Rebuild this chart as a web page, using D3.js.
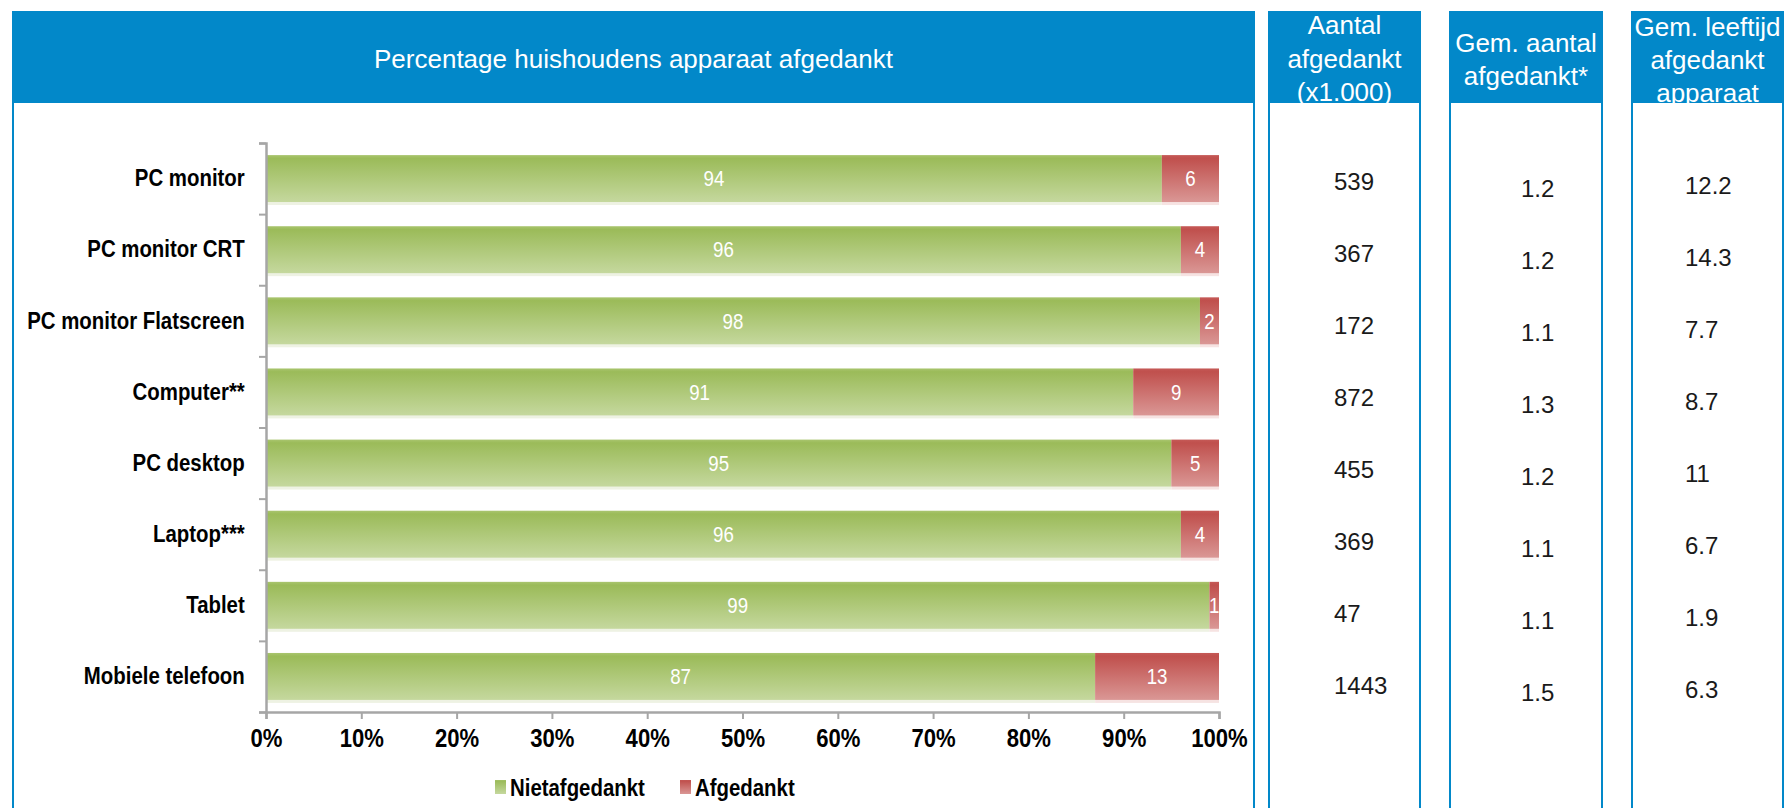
<!DOCTYPE html>
<html>
<head>
<meta charset="utf-8">
<script src="https://cdn.jsdelivr.net/npm/d3@7"></script>
<style>
  html, body { margin: 0; padding: 0; background: #fff; }
  svg { display: block; font-family: "Liberation Sans", Arial, sans-serif; }
</style>
</head>
<body>
<svg id="chart" width="1785" height="808"></svg>
<script>
// data
const categories = ['PC monitor', 'PC monitor CRT', 'PC monitor Flatscreen', 'Computer**',
                    'PC desktop', 'Laptop***', 'Tablet', 'Mobiele telefoon'];
const nietAfgedankt = [94, 96, 98, 91, 95, 96, 99, 87];
const afgedankt = [6, 4, 2, 9, 5, 4, 1, 13];
const aantalAfgedankt = ['539', '367', '172', '872', '455', '369', '47', '1443'];
const gemAantal = ['1.2', '1.2', '1.1', '1.3', '1.2', '1.1', '1.1', '1.5'];
const gemLeeftijd = ['12.2', '14.3', '7.7', '8.7', '11', '6.7', '1.9', '6.3'];
const xTicks = [0, 10, 20, 30, 40, 50, 60, 70, 80, 90, 100];
const seriesNames = ['Nietafgedankt', 'Afgedankt'];

const blue = '#0288c9';
const axisGrey = '#a6a6a6';
const squeeze = 'scale(0.85,1)';

const svg = d3.select('#chart');

const defs = svg.append('defs');
function gradient(id, stops) {
  const g = defs.append('linearGradient')
    .attr('id', id).attr('x1', 0).attr('y1', 0).attr('x2', 0).attr('y2', 1);
  stops.forEach(s => g.append('stop').attr('offset', s[0]).attr('stop-color', s[1]));
}
gradient('grad-green', [[0, '#a9c56f'], [0.07, '#9bbb59'], [1, '#c5d89e']]);
gradient('grad-red', [[0, '#c55a57'], [0.07, '#c0504d'], [1, '#da9795']]);

defs.append('clipPath').attr('id', 'plot-clip')
  .append('rect').attr('x', 266).attr('y', 100).attr('width', 954).attr('height', 640);

// ---- panels ----
const panels = [
  { x0: 12, x1: 1255, lines: [['Percentage huishoudens apparaat afgedankt', 59]] },
  { x0: 1268, x1: 1421, lines: [['Aantal', 25], ['afgedankt', 59], ['(x1.000)', 92]] },
  { x0: 1449, x1: 1603, lines: [['Gem. aantal', 43], ['afgedankt*', 76]] },
  { x0: 1631, x1: 1784, lines: [['Gem. leeftijd', 27], ['afgedankt', 60], ['apparaat', 93]] }
];

panels.forEach(p => {
  const g = svg.append('g');
  g.append('rect')
    .attr('x', p.x0).attr('y', 11)
    .attr('width', p.x1 - p.x0).attr('height', 808)
    .attr('fill', blue);
  g.selectAll('text.head')
    .data(p.lines)
    .enter().append('text')
    .attr('class', 'head')
    .attr('x', (p.x0 + p.x1) / 2)
    .attr('y', d => d[1])
    .attr('dy', '0.35em')
    .attr('text-anchor', 'middle')
    .attr('fill', '#fff')
    .attr('font-size', 26)
    .text(d => d[0]);
  // white body drawn over the header text, so the last line gets cut like the original
  g.append('rect')
    .attr('x', p.x0 + 2).attr('y', 103)
    .attr('width', p.x1 - p.x0 - 4).attr('height', 720)
    .attr('fill', '#fff');
});

// ---- bar chart ----
const x = d3.scaleLinear().domain([0, 100]).range([266, 1219]);
const y = d3.scaleBand().domain(categories).range([143, 712]).paddingInner(0.34).paddingOuter(0.17);
const yEdges = d3.scaleLinear().domain([0, categories.length]).range([143, 712]);

const rows = categories.map((c, i) => ({ cat: c, niet: nietAfgedankt[i], af: afgedankt[i] }));

const plot = svg.append('g');
const bars = plot.append('g').attr('clip-path', 'url(#plot-clip)');

// soft shadow under each segment
bars.selectAll('rect.shadow-g')
  .data(rows).enter().append('rect')
  .attr('x', x(0)).attr('y', d => y(d.cat) + 3)
  .attr('width', d => x(d.niet) - x(0)).attr('height', y.bandwidth())
  .attr('fill', '#eef2e3');
bars.selectAll('rect.shadow-r')
  .data(rows).enter().append('rect')
  .attr('x', d => x(d.niet)).attr('y', d => y(d.cat) + 3)
  .attr('width', d => x(d.niet + d.af) - x(d.niet)).attr('height', y.bandwidth())
  .attr('fill', '#f6e3e2');

bars.selectAll('rect.green')
  .data(rows).enter().append('rect')
  .attr('x', x(0)).attr('y', d => y(d.cat))
  .attr('width', d => x(d.niet) - x(0)).attr('height', y.bandwidth())
  .attr('fill', 'url(#grad-green)');
bars.selectAll('rect.red')
  .data(rows).enter().append('rect')
  .attr('x', d => x(d.niet)).attr('y', d => y(d.cat))
  .attr('width', d => x(d.niet + d.af) - x(d.niet)).attr('height', y.bandwidth())
  .attr('fill', 'url(#grad-red)');

bars.selectAll('text.lab-g')
  .data(rows).enter().append('text')
  .attr('transform', d => `translate(${x(d.niet / 2)},${y(d.cat) + y.bandwidth() / 2}) ${squeeze}`)
  .attr('dy', '0.35em').attr('text-anchor', 'middle')
  .attr('fill', '#fff').attr('font-size', 22)
  .text(d => d.niet);
bars.selectAll('text.lab-r')
  .data(rows).enter().append('text')
  .attr('transform', d => `translate(${x(d.niet + d.af / 2)},${y(d.cat) + y.bandwidth() / 2}) ${squeeze}`)
  .attr('dy', '0.35em').attr('text-anchor', 'middle')
  .attr('fill', '#fff').attr('font-size', 22)
  .text(d => d.af);

// y axis: tick marks on the band edges, labels on band centres
const yTickAxis = plot.append('g')
  .attr('transform', 'translate(266,0)')
  .call(d3.axisLeft(yEdges).tickValues(d3.range(categories.length + 1)).tickSize(7).tickFormat(''));
const yLabAxis = plot.append('g')
  .attr('transform', 'translate(266,0)')
  .call(d3.axisLeft(y).tickSize(0).tickPadding(25));
yLabAxis.select('.domain').remove();
yLabAxis.selectAll('text')
  .attr('transform', squeeze)
  .attr('font-size', 24).attr('font-weight', 'bold')
  .attr('font-family', '"Liberation Sans", Arial, sans-serif')
  .attr('fill', '#000');

const xAxis = plot.append('g')
  .attr('transform', 'translate(0,712)')
  .call(d3.axisBottom(x).tickValues(xTicks).tickSize(7).tickPadding(10).tickFormat(d => d + '%'));
xAxis.selectAll('text')
  .attr('transform', squeeze)
  .attr('font-size', 26).attr('font-weight', 'bold')
  .attr('font-family', '"Liberation Sans", Arial, sans-serif')
  .attr('fill', '#000');
xAxis.select('.domain').attr('transform', 'translate(0,0)');

[yTickAxis, xAxis].forEach(a => {
  a.selectAll('.domain').attr('stroke', axisGrey).attr('stroke-width', 2.5);
  a.selectAll('.tick line').attr('stroke', axisGrey).attr('stroke-width', 2);
});

// legend
const legendX = [495, 680];
const legend = svg.append('g').selectAll('g')
  .data(seriesNames).enter().append('g')
  .attr('transform', (d, i) => `translate(${legendX[i]},787)`);
legend.append('rect')
  .attr('x', 0).attr('y', -7).attr('width', 11).attr('height', 14)
  .attr('fill', (d, i) => i === 0 ? 'url(#grad-green)' : 'url(#grad-red)');
legend.append('text')
  .attr('transform', 'translate(15,0) ' + squeeze)
  .attr('dy', '0.36em')
  .attr('font-size', 24).attr('font-weight', 'bold')
  .attr('fill', '#000')
  .text(d => d);

// ---- side columns ----
const sideCols = [
  { vals: aantalAfgedankt, x: 1334, top: 182 },
  { vals: gemAantal, x: 1521, top: 189 },
  { vals: gemLeeftijd, x: 1685, top: 186 }
];
sideCols.forEach(col => {
  const ys = d3.scalePoint().domain(categories).range([col.top, col.top + 72 * 7]);
  svg.append('g').selectAll('text')
    .data(col.vals).enter().append('text')
    .attr('x', col.x)
    .attr('y', (d, i) => ys(categories[i]))
    .attr('dy', '0.35em')
    .attr('font-size', 24)
    .attr('fill', '#1a1a1a')
    .text(d => d);
});
</script>
</body>
</html>
